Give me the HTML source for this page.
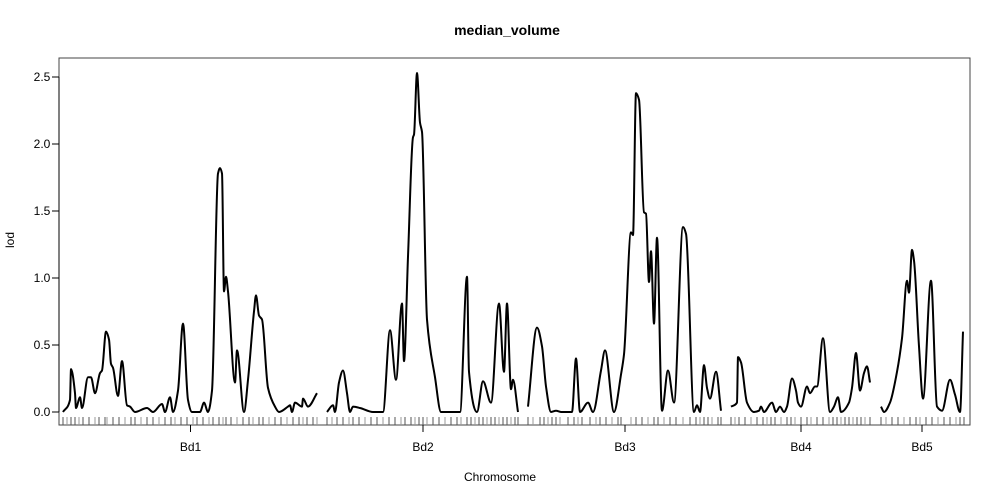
<!DOCTYPE html>
<html><head><meta charset="utf-8"><style>
body{margin:0;background:#fff}
svg{display:block;font-family:"Liberation Sans",sans-serif}
</style></head><body>
<svg id="chart" width="1000" height="500">
<text x="507" y="35" text-anchor="middle" font-size="14" font-weight="bold">median_volume</text>
<text x="500" y="481" text-anchor="middle" font-size="12">Chromosome</text>
<text x="14" y="240" text-anchor="middle" font-size="12" transform="rotate(-90 14 240)">lod</text>
<rect x="59" y="58" width="911" height="367" fill="none" stroke="#444" stroke-width="1"/>
<g id="yaxis"></g>
<g id="xaxis"></g>
<g id="rug"></g>
<g id="curves"></g>
</svg>
<script>
const chrNames=["Bd1","Bd2","Bd3","Bd4","Bd5"];
const chrLengths=[255,192,194,140,84];
const yTicks=[0,0.5,1.0,1.5,2.0,2.5];
const yTickLabels=["0.0","0.5","1.0","1.5","2.0","2.5"];
const pos1=[0,7,8,12,13,17,19,25,28,32,37,39,43,46,48,50,55,59,64,67,72,84,90,99,102,107,110,115,120,125,129,137,141,145,149,155,157,159,161,163,165,172,174,181,185,191,193,196,199,205,212,216,225,227,229,232,239,240,245,254];
const lod1=[0,.09,.32,.14,.03,.11,.03,.26,.26,.14,.29,.31,.6,.54,.36,.33,.12,.38,.05,.04,0,.03,0,.06,0,.11,0,.16,.66,.09,0,0,.07,0,.16,1.78,1.82,1.78,.9,1.01,.9,.22,.46,0,.24,.75,.87,.72,.69,.18,.04,0,.04,.05,0,.07,.04,.1,.04,.14];
const pos2=[0,6,8,12,16,20,23,26,33,46,56,63,69,75,77,81,86,87,90,93,95,100,108,114,125,133,140,142,150,156,164,172,177,180,184,186,191];
const lod2=[0,.05,0,.22,.31,.14,0,.04,.03,0,0,.61,.24,.81,.38,1.16,2.05,2.07,2.53,2.16,2.09,.69,.26,0,0,0,1.01,.3,0,.23,.07,.81,.3,.81,.17,.24,0];
const pos3=[0,9,14,18,23,28,33,44,48,52,60,65,73,77,86,93,96,103,105,108,111,116,118,121,123,126,129,134,140,146,155,158,166,169,172,176,179,182,188,193];
const lod3=[.04,.63,.49,.19,0,.01,0,0,.4,0,.07,0,.31,.46,0,.28,.43,1.34,1.32,2.38,2.33,1.49,1.48,.97,1.2,.66,1.3,.01,.31,.07,1.38,1.33,0,.05,0,.35,.18,.1,.3,.01];
const pos4=[0,6,7,10,16,23,28,30,33,41,45,49,53,56,61,65,67,70,76,79,84,86,92,99,103,107,110,118,121,125,129,133,136,139];
const lod4=[.04,.07,.41,.37,.07,0,.01,.04,0,.07,0,.04,0,.04,.25,.16,.07,.04,.19,.14,.19,.19,.55,0,.04,.11,0,.07,.18,.44,.16,.29,.34,.22];
const pos5=[1,4,10,17,22,27,29,32,34,39,43,51,57,62,70,75,80,83];
const lod5=[.04,0,.07,.3,.55,.98,.89,1.21,1.13,.49,.1,.98,.04,.01,.24,.13,0,.6];
const markers1=[0,4,8,12,16,20,26,32,36,42,44,50,56,62,68,72,78,84,90,96,102,108,112,118,124,130,134,140,146,150,156,160,163,168,174,180,186,190,196,200,206,212,218,224,230,236,240,244,250,254];
const markers2=[0,5,10,16,22,26,32,38,44,50,56,62,68,74,78,84,88,92,96,100,106,112,118,124,130,134,140,144,148,152,156,160,164,168,172,176,180,184,188,191];
const markers3=[0,5,12,16,20,24,28,32,40,46,50,54,62,68,72,78,84,90,93,103,108,114,120,126,130,136,142,148,155,162,168,172,176,180,184,190,193];
const markers4=[0,4,8,14,20,26,32,36,40,44,50,56,60,64,70,76,80,86,92,98,102,106,110,114,118,122,126,130,134,139];
const markers5=[1,6,12,18,24,30,36,40,46,52,58,64,70,76,80,84];

const allPos=[pos1,pos2,pos3,pos4,pos5];
const allLod=[lod1,lod2,lod3,lod4,lod5];
const allMarkers=[markers1,markers2,markers3,markers4,markers5];
const gap=9;
const offsets=[];let acc=0;
for(let i=0;i<chrLengths.length;i++){offsets.push(acc);acc+=chrLengths[i]+gap;}
const total=acc-gap;
const xDom=[-4,total+7], xRange=[59,971];
const X=v=>xRange[0]+(v-xDom[0])/(xDom[1]-xDom[0])*(xRange[1]-xRange[0]);
const Y=v=>412-(v/2.5)*335;
const NS="http://www.w3.org/2000/svg";
function mk(tag,attrs,parent){const e=document.createElementNS(NS,tag);for(const k in attrs)e.setAttribute(k,attrs[k]);parent.appendChild(e);return e;}
function monotonePath(xs,ys){
  const n=xs.length;if(n<2)return '';
  const dx=[],s=[];
  for(let i=0;i<n-1;i++){dx.push(xs[i+1]-xs[i]);s.push((ys[i+1]-ys[i])/(dx[i]||1e-6));}
  const m=[s[0]];
  for(let i=1;i<n-1;i++){
    if(s[i-1]*s[i]<=0)m.push(0);
    else{const w1=2*dx[i]+dx[i-1],w2=dx[i]+2*dx[i-1];m.push((w1+w2)/(w1/s[i-1]+w2/s[i]));}
  }
  m.push(s[n-2]);
  let d='M'+xs[0].toFixed(1)+','+ys[0].toFixed(1);
  for(let i=0;i<n-1;i++){
    const h=dx[i]/3;
    d+='C'+(xs[i]+h).toFixed(1)+','+(ys[i]+m[i]*h).toFixed(1)+' '+(xs[i+1]-h).toFixed(1)+','+(ys[i+1]-m[i+1]*h).toFixed(1)+' '+xs[i+1].toFixed(1)+','+ys[i+1].toFixed(1);
  }
  return d;
}
const yg=document.getElementById('yaxis');
mk('line',{x1:59,x2:59,y1:Y(0),y2:Y(2.5),stroke:'#000'},yg);
yTicks.forEach((t,i)=>{
  const l=mk('line',{x1:52,x2:59,y1:Y(t),y2:Y(t),stroke:'#000'},yg);
  
  
  const tx=mk('text',{x:42,y:Y(t)+4,'text-anchor':'middle','font-size':12},yg);
  tx.textContent=yTickLabels[i];
  
  
});
const xg=document.getElementById('xaxis');
chrNames.forEach((n,i)=>{
  const c=X(offsets[i]+chrLengths[i]/2);
  const l=mk('line',{x1:c,x2:c,y1:425,y2:432,stroke:'#000'},xg);
  
  
  const tx=mk('text',{x:c,y:451,'text-anchor':'middle','font-size':12},xg);
  tx.textContent=n;
  
  
});
const rg=document.getElementById('rug');
allMarkers.forEach((ms,i)=>ms.forEach((m,j)=>{
  const x=X(offsets[i]+m);
  const l=mk('line',{x1:x,x2:x,y1:417,y2:425,stroke:j%3==1?'#999':'#555','stroke-width':1},rg);
  
  
}));
const cg=document.getElementById('curves');
allPos.forEach((ps,i)=>{
  const xs=ps.map(p=>X(offsets[i]+p));
  const ys=allLod[i].map(v=>Y(v));
  const path=mk('path',{d:monotonePath(xs,ys),fill:'none',stroke:'#000','stroke-width':2,'stroke-linejoin':'round'},cg);
  
  
});
</script>
</body></html>
